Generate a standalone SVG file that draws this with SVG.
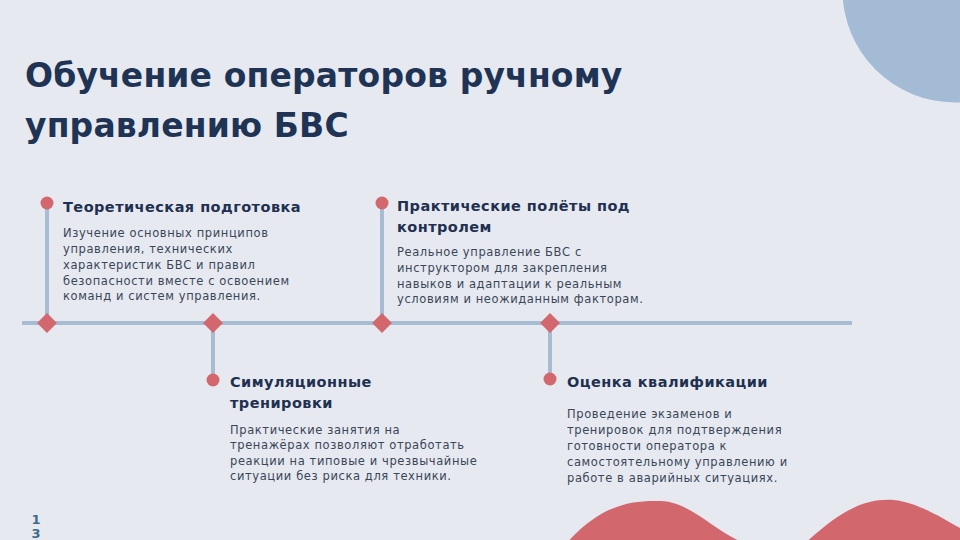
<svg xmlns="http://www.w3.org/2000/svg" width="960" height="540" viewBox="0 0 960 540">
<style>
.h{font-family:"DejaVu Sans","Open Sans",sans-serif;font-weight:bold;fill:#1F3354}
.t{font-family:"DejaVu Sans","Open Sans",sans-serif;font-weight:bold;font-size:14.5px;fill:#1F3050;letter-spacing:0.45px}
.b{font-family:"DejaVu Sans","Open Sans",sans-serif;font-size:11.5px;fill:#3A4658;letter-spacing:0.6px}
.dot{fill:#D2686E}
.ln{stroke:#A7BCD3;stroke-width:4;fill:none}
</style>
<rect width="960" height="540" fill="#E6E9F0"/>
<circle cx="955" cy="-10" r="112.5" fill="#A3BBD5"/>
<path d="M565,545 C600,505 630,500 661,501 C695,502 720,540 760,548 L800,548 C840,510 865,498 894,500 C920,503 945,520 960,528 L960,545 Z" fill="#D2686E"/>
<text class="h" x="25" y="87" font-size="33" letter-spacing="0.15">Обучение операторов ручному</text>
<text class="h" x="25" y="137" font-size="33" letter-spacing="0.15">управлению БВС</text>
<g id="connectors">
<line class="ln" x1="22" y1="323" x2="852" y2="323"/>
<line class="ln" x1="47" y1="203" x2="47" y2="323"/>
<line class="ln" x1="213" y1="323" x2="213" y2="380"/>
<line class="ln" x1="382" y1="203" x2="382" y2="323"/>
<line class="ln" x1="550" y1="323" x2="550" y2="379"/>
</g>
<g id="node1">
<circle class="dot" cx="47" cy="203" r="6.5"/>
<rect class="dot" x="40" y="316" width="14" height="14" transform="rotate(45 47 323)"/>
<text class="t" x="63" y="212">Теоретическая подготовка</text>
<text class="b" x="63" y="237">Изучение основных принципов</text>
<text class="b" x="63" y="253">управления, технических</text>
<text class="b" x="63" y="269">характеристик БВС и правил</text>
<text class="b" x="63" y="285">безопасности вместе с освоением</text>
<text class="b" x="63" y="300">команд и систем управления.</text>
</g>
<g id="node2">
<rect class="dot" x="206" y="316" width="14" height="14" transform="rotate(45 213 323)"/>
<circle class="dot" cx="213" cy="380" r="6.5"/>
<text class="t" x="230" y="387">Симуляционные</text>
<text class="t" x="230" y="408">тренировки</text>
<text class="b" x="230" y="434">Практические занятия на</text>
<text class="b" x="230" y="449">тренажёрах позволяют отработать</text>
<text class="b" x="230" y="465">реакции на типовые и чрезвычайные</text>
<text class="b" x="230" y="480">ситуации без риска для техники.</text>
</g>
<g id="node3">
<circle class="dot" cx="382" cy="203" r="6.5"/>
<rect class="dot" x="375" y="316" width="14" height="14" transform="rotate(45 382 323)"/>
<text class="t" x="397" y="211">Практические полёты под</text>
<text class="t" x="397" y="232">контролем</text>
<text class="b" x="397" y="256">Реальное управление БВС с</text>
<text class="b" x="397" y="272">инструктором для закрепления</text>
<text class="b" x="397" y="288">навыков и адаптации к реальным</text>
<text class="b" x="397" y="303">условиям и неожиданным факторам.</text>
</g>
<g id="node4">
<rect class="dot" x="543" y="316" width="14" height="14" transform="rotate(45 550 323)"/>
<circle class="dot" cx="550" cy="379" r="6.5"/>
<text class="t" x="567" y="387">Оценка квалификации</text>
<text class="b" x="567" y="418">Проведение экзаменов и</text>
<text class="b" x="567" y="434">тренировок для подтверждения</text>
<text class="b" x="567" y="450">готовности оператора к</text>
<text class="b" x="567" y="466">самостоятельному управлению и</text>
<text class="b" x="567" y="482">работе в аварийных ситуациях.</text>
</g>
<text x="36" y="524" text-anchor="middle" font-family="DejaVu Sans,sans-serif" font-weight="bold" font-size="13" fill="#3F6B8A">1</text>
<text x="36" y="538" text-anchor="middle" font-family="DejaVu Sans,sans-serif" font-weight="bold" font-size="13" fill="#3F6B8A">3</text>
</svg>
